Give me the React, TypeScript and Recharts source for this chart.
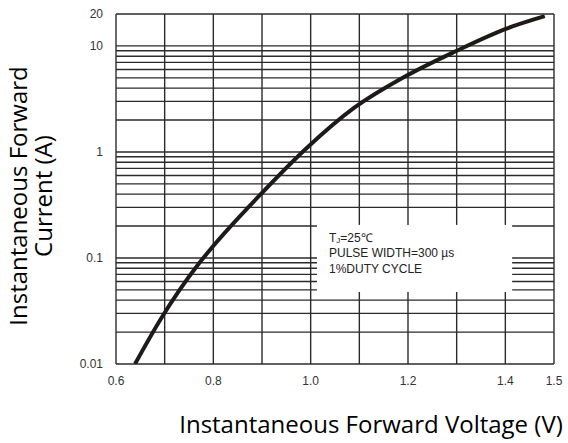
import { LineChart, Line, XAxis, YAxis, ReferenceLine, Label } from "recharts";

// forward voltage (V) vs instantaneous forward current (A)
const voltage = [0.639, 0.692, 0.768, 0.793, 0.892, 0.992, 1.089, 1.192, 1.299, 1.401, 1.481];
const current = [0.01, 0.0266, 0.0859, 0.119, 0.376, 1.09, 2.6, 5.09, 8.95, 14.5, 19.1];

const xTicks = [0.6, 0.8, 1.0, 1.2, 1.4, 1.5];
const yTicks = [0.01, 0.1, 1, 10, 20];

const xGrid = [0.6, 0.7, 0.8, 0.9, 1.0, 1.1, 1.2, 1.3, 1.4, 1.5];
const yGrid = [
  0.01, 0.02, 0.03, 0.04, 0.05, 0.06, 0.07, 0.08, 0.09,
  0.1, 0.2, 0.3, 0.4, 0.5, 0.6, 0.7, 0.8, 0.9,
  1, 2, 3, 4, 5, 6, 7, 8, 9,
  10, 20,
];

// white note box that interrupts the grid (data units)
const noteV = [1.013, 1.414];
const noteI = [0.0478, 0.205];
const noteLines = ["PULSE WIDTH=300 µs", "1%DUTY CYCLE"];

const data = voltage.map((v, idx) => ({ v, amps: current[idx] }));

const tickFont = "'Liberation Sans', Arial, sans-serif";
const titleFont = "'Open Sans', sans-serif";
const gridColor = "#2b2b2b";
const xDomain = [0.6, 1.5];
const yDomain = [0.01, 20];

function NoteContent({ viewBox }: any) {
  const x = viewBox.x + 12;
  const y = viewBox.y;
  return (
    <g fontFamily={tickFont} fontSize={12} fill="#222">
      <text x={x} y={y + 17}>
        T<tspan fontSize={8} dy={1}>J</tspan>
        <tspan dy={-1}>=25℃</tspan>
      </text>
      <text x={x} y={y + 32}>{noteLines[0]}</text>
      <text x={x} y={y + 48}>{noteLines[1]}</text>
    </g>
  );
}

function YTitle({ viewBox }: any) {
  const cy = viewBox.y + viewBox.height / 2 + 7;
  return (
    <g fontFamily={titleFont} fontSize={24} fill="#000" textAnchor="middle">
      <text transform={`translate(27, ${cy}) rotate(-90)`}>Instantaneous Forward</text>
      <text transform={`translate(52, ${cy}) rotate(-90)`}>Current (A)</text>
    </g>
  );
}

function XTitle({ viewBox }: any) {
  return (
    <text
      x={viewBox.x + viewBox.width / 2 + 36}
      y={viewBox.y + 69}
      fontFamily={titleFont}
      fontSize={24}
      fill="#000"
      textAnchor="middle"
    >
      Instantaneous Forward Voltage (V)
    </text>
  );
}

// grid lines, split where they pass under the note box
function gridSegments() {
  const segs: any[] = [];
  yGrid.forEach((g) => {
    if (g > noteI[0] && g < noteI[1]) {
      segs.push({ key: `h${g}a`, seg: [{ x: xDomain[0], y: g }, { x: noteV[0], y: g }] });
      segs.push({ key: `h${g}b`, seg: [{ x: noteV[1], y: g }, { x: xDomain[1], y: g }] });
    } else {
      segs.push({ key: `h${g}`, seg: [{ x: xDomain[0], y: g }, { x: xDomain[1], y: g }] });
    }
  });
  xGrid.forEach((g) => {
    if (g > noteV[0] && g < noteV[1]) {
      segs.push({ key: `v${g}a`, seg: [{ x: g, y: yDomain[0] }, { x: g, y: noteI[0] }] });
      segs.push({ key: `v${g}b`, seg: [{ x: g, y: noteI[1] }, { x: g, y: yDomain[1] }] });
    } else {
      segs.push({ key: `v${g}`, seg: [{ x: g, y: yDomain[0] }, { x: g, y: yDomain[1] }] });
    }
  });
  return segs;
}

export default function App() {
  return (
    <div style={{ position: "absolute", left: 0, top: 0, background: "#fff" }}>
      <LineChart width={568} height={443} data={data} margin={{ top: 14, right: 14, bottom: 49, left: 0 }}>
        <XAxis
          dataKey="v"
          type="number"
          domain={xDomain}
          ticks={xTicks}
          tickFormatter={(t: number) => t.toFixed(1)}
          tick={{ fontSize: 12, fill: "#333", fontFamily: tickFont }}
          axisLine={false}
          tickLine={false}
          tickMargin={6}
          height={30}
          allowDataOverflow
        >
          <Label content={<XTitle />} />
        </XAxis>
        <YAxis
          type="number"
          scale="log"
          domain={yDomain}
          ticks={yTicks}
          tickFormatter={(t: number) => String(t)}
          tick={{ fontSize: 12, fill: "#333", fontFamily: tickFont }}
          axisLine={false}
          tickLine={false}
          tickMargin={7}
          width={116}
          allowDataOverflow
        >
          <Label content={<YTitle />} />
        </YAxis>
        {gridSegments().map((s) => (
          <ReferenceLine key={s.key} segment={s.seg} stroke={gridColor} strokeWidth={1.4} />
        ))}
        <ReferenceLine
          segment={[{ x: noteV[0], y: noteI[1] }, { x: noteV[1], y: noteI[1] }]}
          stroke="none"
          label={<NoteContent />}
        />
        <Line
          dataKey="amps"
          type="monotone"
          stroke="#1e1a1a"
          strokeWidth={4}
          dot={false}
          isAnimationActive={false}
        />
      </LineChart>
    </div>
  );
}
